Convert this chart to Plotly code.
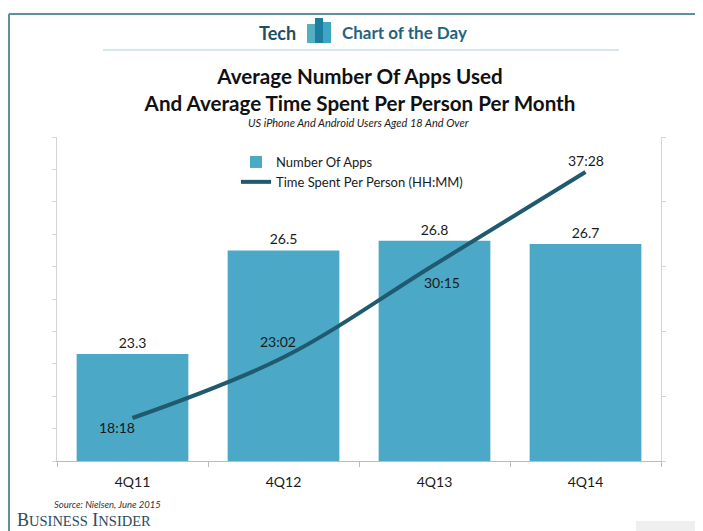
import plotly.graph_objects as go

quarters = ["4Q11", "4Q12", "4Q13", "4Q14"]
apps = [23.3, 26.5, 26.8, 26.7]
time_minutes = [1098, 1382, 1815, 2248]
time_labels = ["18:18", "23:02", "30:15", "37:28"]
label_shift_x = [-16, -6, 7, 0]
label_shift_y = [-9, 16, -18, 12]

PAGE = 8  # page margin around the figure
W, H = 703 - PAGE, 531 - PAGE
ML, MT, PW, PH = 49, 129, 604, 324
FONT = "Lato"
DARK = "#1a1a1a"

def px(x):
    return (x - PAGE - ML) / PW

def py(y):
    return 1 - (y - PAGE - MT) / PH

fig = go.Figure()
fig.add_trace(go.Bar(
    x=quarters, y=apps, name="Number Of Apps", marker=dict(color="#4BA8C6", line_width=0),
    text=[f"{v:.1f}" for v in apps], textposition="outside", cliponaxis=False,
    textfont=dict(family=FONT, size=14, color=DARK), hoverinfo="x+y",
))
fig.add_trace(go.Scatter(
    x=quarters, y=time_minutes, name="Time Spent Per Person (HH:MM)", yaxis="y2",
    mode="lines", line=dict(color="#1F5A6E", width=4, shape="spline", smoothing=1.0),
    hoverinfo="x+text", text=time_labels,
))

annotations = []
for q, m, t, sx, sy in zip(quarters, time_minutes, time_labels, label_shift_x, label_shift_y):
    annotations.append(dict(x=q, y=m, xref="x", yref="y2", text=t, showarrow=False,
                            xshift=sx, yshift=sy, font=dict(family=FONT, size=14, color=DARK)))

def note(x, y, text, size, color=DARK, family=FONT, xanchor="center"):
    annotations.append(dict(x=px(x), y=py(y), xref="paper", yref="paper", text=text,
                            showarrow=False, xanchor=xanchor, yanchor="middle",
                            font=dict(family=family, size=size, color=color)))

note(277, 33, "<b>Tech</b>", 18, "#1F4E63")
note(404, 33, "<b>Chart of the Day</b>", 17, "#1F6580")
note(358, 122, "<i>US iPhone And Android Users Aged 18 And Over</i>", 11)
note(52, 504, "<i>Source: Nielsen, June 2015</i>", 9.5, "#333333", xanchor="left")
note(15, 520, 'B<span style="font-size:14.5px">USINESS</span> I<span style="font-size:14.5px">NSIDER</span>',
     18, "#2A4A5E", "Liberation Serif", "left")

def rect(x0, y0, x1, y1, color):
    return dict(type="rect", xref="paper", yref="paper", x0=px(x0), x1=px(x1), y0=py(y0), y1=py(y1),
                fillcolor=color, line_width=0, layer="below")

def line(x0, y0, x1, y1, color, width):
    return dict(type="line", xref="paper", yref="paper", x0=px(x0), x1=px(x1), y0=py(y0), y1=py(y1),
                line=dict(color=color, width=width), layer="below")

shapes = [
    line(9, 14, 703, 14, "#5F9298", 2),
    line(9, 14, 9, 531, "#5F9298", 2),
    line(103, 50, 619, 50, "#A9CFD6", 1),
    rect(307, 24, 316, 43, "#55AFC2"),
    rect(322, 22, 331, 43, "#3FA5C5"),
    rect(315, 18, 323, 43, "#1C7FA0"),
    rect(636, 521, 703, 531, "#EFEFEF"),
]

fig.update_layout(
    width=W, height=H, paper_bgcolor="white", plot_bgcolor="white",
    margin=dict(l=ML, r=W - ML - PW, t=MT, b=H - MT - PH),
    title=dict(text="<b>Average Number Of Apps Used<br>And Average Time Spent Per Person Per Month</b>",
               x=(360 - PAGE) / W, xanchor="center", y=1 - (84 - PAGE) / H, yanchor="top",
               font=dict(family=FONT, size=20.6, color="#111111")),
    bargap=0.26, showlegend=True,
    legend=dict(x=px(236), y=py(147), xanchor="left", yanchor="top", bgcolor="rgba(0,0,0,0)",
                font=dict(family=FONT, size=13, color=DARK), itemwidth=30, tracegroupgap=0),
    xaxis=dict(type="category", tickson="boundaries", ticks="outside", ticklen=5, tickcolor="#BBBBBB",
               showline=True, linecolor="#BBBBBB", linewidth=1, showgrid=False, ticklabelstandoff=8,
               tickfont=dict(family=FONT, size=14, color=DARK)),
    yaxis=dict(range=[20, 30], tick0=20, dtick=1, ticks="outside", ticklen=4, tickcolor="#D5D5D5",
               showline=True, linecolor="#D5D5D5", linewidth=1, showgrid=False, showticklabels=False, zeroline=False),
    yaxis2=dict(range=[897, 2412], tick0=897, dtick=303, overlaying="y", side="right", ticks="outside", ticklen=4,
                tickcolor="#D5D5D5", showline=True, linecolor="#D5D5D5", linewidth=1, showgrid=False,
                showticklabels=False, zeroline=False),
    annotations=annotations, shapes=shapes,
)
fig.write_html("out.html")
